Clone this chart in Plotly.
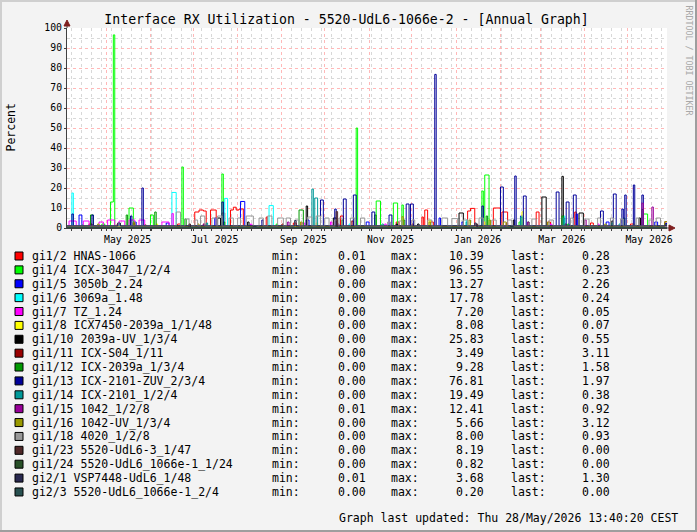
import pandas as pd
import plotly.graph_objects as go

RANGE_START = "2025-04-03 13:40"
RANGE_END = "2026-05-28 13:40"
LAST_FROM = "2026-05-27"

names = ["gi1/2 HNAS-1066", "gi1/4 ICX-3047_1/2/4", "gi1/5 3050b_2.24", "gi1/6 3069a_1.48",
         "gi1/7 TZ_1.24", "gi1/8 ICX7450-2039a_1/1/48", "gi1/10 2039a-UV_1/3/4", "gi1/11 ICX-S04_1/11",
         "gi1/12 ICX-2039a_1/3/4", "gi1/13 ICX-2101-ZUV_2/3/4", "gi1/14 ICX-2101_1/2/4", "gi1/15 1042_1/2/8",
         "gi1/16 1042-UV_1/3/4", "gi1/18 4020_1/2/8", "gi1/23 5520-UdL6-3_1/47", "gi1/24 5520-UdL6_1066e-1_1/24",
         "gi2/1 VSP7448-UdL6_1/48", "gi2/3 5520-UdL6_1066e-1_2/4"]
mins = [0.01, 0.00, 0.00, 0.00, 0.00, 0.00, 0.00, 0.00, 0.00, 0.00, 0.00, 0.01, 0.00, 0.00, 0.00, 0.00, 0.01, 0.00]
maxs = [10.39, 96.55, 13.27, 17.78, 7.20, 8.08, 25.83, 3.49, 9.28, 76.81, 19.49, 12.41, 5.66, 8.00, 8.19, 0.82, 3.68, 0.20]
lasts = [0.28, 0.23, 2.26, 0.24, 0.05, 0.07, 0.55, 3.11, 1.58, 1.97, 0.38, 0.92, 3.12, 0.93, 0.00, 0.00, 1.30, 0.00]
bases = [0.3, 0.3, 0.8, 0.3, 0.2, 0.1, 0.5, 0.5, 1.0, 1.0, 0.4, 0.8, 0.8, 1.0, 0.1, 0.1, 1.0, 0.1]
colors = ["#FF0000", "#00FF00", "#0000FF", "#00FFFF", "#FF00FF", "#FFFF00", "#000000", "#990000",
          "#009900", "#000099", "#009999", "#990099", "#999900", "#999999", "#4F2828", "#285028",
          "#28284F", "#285050"]

gi1_2_events = [("2025-04-19", "2025-04-21", 2.0), ("2025-05-08", "2025-05-10", 1.5), ("2025-06-20", "2025-06-22", 2.0),
                ("2025-07-02", "2025-07-05", 8.0), ("2025-07-05", "2025-07-08", 9.0), ("2025-07-08", "2025-07-10", 8.5),
                ("2025-07-13", "2025-07-17", 9.0), ("2025-07-21", "2025-07-23", 7.5), ("2025-07-27", "2025-07-29", 9.0),
                ("2025-07-29", "2025-07-31", 10.39), ("2025-07-31", "2025-08-02", 9.0), ("2025-08-02", "2025-08-05", 9.5),
                ("2025-08-21", "2025-08-22", 5.5), ("2025-09-09", "2025-09-11", 2.5), ("2025-10-12", "2025-10-14", 6.0),
                ("2025-11-20", "2025-11-22", 3.0), ("2025-12-08", "2025-12-09", 5.5), ("2025-12-10", "2025-12-12", 9.0),
                ("2025-12-14", "2025-12-16", 3.0), ("2026-01-09", "2026-01-11", 8.5), ("2026-01-11", "2026-01-14", 9.8),
                ("2026-01-27", "2026-02-01", 10.0), ("2026-02-02", "2026-02-06", 8.0), ("2026-02-26", "2026-02-28", 8.0),
                ("2026-03-06", "2026-03-08", 3.0), ("2026-03-25", "2026-03-26", 8.0), ("2026-04-05", "2026-04-07", 2.5),
                ("2026-05-03", "2026-05-05", 2.0)]
gi1_4_events = [("2025-04-14", "2025-04-15", 1.5), ("2025-04-28", "2025-04-30", 2.0), ("2025-05-04", "2025-05-06", 13.0),
                ("2025-05-06", "2025-05-07", 96.55), ("2025-05-17", "2025-05-20", 10.0), ("2025-06-01", "2025-06-03", 6.5),
                ("2025-06-23", "2025-06-24", 30.5), ("2025-07-21", "2025-07-22", 27.0), ("2025-08-28", "2025-08-29", 2.0),
                ("2025-10-23", "2025-10-24", 50.0), ("2025-11-06", "2025-11-09", 13.5), ("2025-11-18", "2025-11-21", 12.5),
                ("2025-11-24", "2025-11-25", 11.5), ("2026-01-19", "2026-01-20", 18.5), ("2026-01-21", "2026-01-24", 26.5),
                ("2026-02-14", "2026-02-16", 3.0), ("2026-03-20", "2026-03-21", 2.0), ("2026-05-12", "2026-05-15", 7.0)]
gi1_5_events = [("2025-04-12", "2025-04-14", 6.5), ("2025-05-20", "2025-05-22", 3.0), ("2025-06-12", "2025-06-14", 2.5),
                ("2025-07-16", "2025-07-17", 5.0), ("2025-08-03", "2025-08-06", 13.27), ("2025-09-18", "2025-09-20", 4.0),
                ("2025-10-30", "2025-11-01", 3.0), ("2025-12-20", "2025-12-21", 5.0), ("2026-01-05", "2026-01-06", 3.0),
                ("2026-02-15", "2026-02-16", 6.0), ("2026-03-26", "2026-03-27", 7.0), ("2026-04-16", "2026-04-18", 3.0),
                ("2026-05-20", "2026-05-22", 3.0)]
gi1_6_events = [("2025-04-07", "2025-04-08", 17.5), ("2025-06-16", "2025-06-19", 17.78), ("2025-07-23", "2025-07-25", 14.8),
                ("2025-08-23", "2025-08-26", 11.2), ("2025-10-18", "2025-10-19", 2.0), ("2026-01-08", "2026-01-09", 4.0),
                ("2026-02-16", "2026-02-17", 6.0), ("2026-03-17", "2026-03-18", 6.0), ("2026-04-20", "2026-04-21", 2.5)]
gi1_7_events = [("2025-04-05", "2025-04-10", 3.5), ("2025-04-15", "2025-04-19", 3.5), ("2025-04-26", "2025-04-29", 3.0),
                ("2025-05-02", "2025-05-07", 4.0), ("2025-05-10", "2025-05-14", 3.5), ("2025-05-17", "2025-05-21", 4.0),
                ("2025-05-24", "2025-05-28", 4.0), ("2025-06-09", "2025-06-14", 3.0), ("2025-06-16", "2025-06-17", 7.2),
                ("2025-08-10", "2025-08-11", 2.0), ("2025-09-15", "2025-09-17", 2.5), ("2025-10-05", "2025-10-06", 3.0),
                ("2025-11-12", "2025-11-13", 2.0), ("2026-01-20", "2026-01-21", 3.0), ("2026-03-08", "2026-03-09", 2.0),
                ("2026-04-10", "2026-04-11", 2.0)]
gi1_8_events = [("2025-06-05", "2025-06-06", 2.0), ("2025-09-25", "2025-09-26", 2.5), ("2025-12-13", "2025-12-14", 4.0),
                ("2026-01-20", "2026-01-21", 3.0), ("2026-02-16", "2026-02-17", 8.08), ("2026-05-05", "2026-05-06", 2.0)]
gi1_10_events = [("2025-05-20", "2025-05-21", 2.5), ("2025-07-18", "2025-07-20", 5.0), ("2025-08-08", "2025-08-09", 3.0),
                 ("2025-09-18", "2025-09-19", 11.0), ("2025-10-07", "2025-10-09", 5.0), ("2025-11-20", "2025-11-21", 2.0),
                 ("2025-12-05", "2025-12-06", 2.0), ("2026-01-03", "2026-01-06", 7.5), ("2026-02-10", "2026-02-11", 4.0),
                 ("2026-03-02", "2026-03-05", 15.5), ("2026-03-16", "2026-03-17", 25.83), ("2026-03-28", "2026-03-31", 7.5),
                 ("2026-04-20", "2026-04-21", 3.5), ("2026-05-09", "2026-05-10", 5.0)]
gi1_11_events = [("2025-04-20", "2025-04-21", 2.0), ("2025-05-28", "2025-05-29", 1.5), ("2025-07-08", "2025-07-09", 2.0),
                 ("2025-09-01", "2025-09-02", 2.0), ("2025-10-20", "2025-10-21", 3.49), ("2025-12-01", "2025-12-02", 2.0),
                 ("2026-02-05", "2026-02-06", 2.5), ("2026-03-18", "2026-03-19", 2.0)]
gi1_12_events = [("2025-04-20", "2025-04-22", 6.5), ("2025-05-15", "2025-05-16", 6.5), ("2025-06-04", "2025-06-05", 8.0),
                 ("2025-06-25", "2025-06-26", 4.5), ("2025-07-22", "2025-07-23", 3.0), ("2025-09-13", "2025-09-16", 9.0),
                 ("2025-10-13", "2025-10-14", 4.0), ("2025-11-05", "2025-11-06", 6.5), ("2025-11-25", "2025-11-26", 4.0),
                 ("2026-01-22", "2026-01-23", 6.0), ("2026-02-20", "2026-02-21", 3.0), ("2026-03-16", "2026-03-17", 6.0),
                 ("2026-04-28", "2026-04-29", 5.0), ("2026-05-11", "2026-05-12", 9.28)]
gi1_13_events = [("2025-04-07", "2025-04-08", 7.0), ("2025-04-21", "2025-04-22", 6.5), ("2025-05-18", "2025-05-19", 6.0),
                 ("2025-05-26", "2025-05-27", 20.0), ("2025-07-21", "2025-07-22", 13.0), ("2025-08-18", "2025-08-19", 4.0),
                 ("2025-09-28", "2025-09-30", 14.0), ("2025-10-08", "2025-10-09", 9.5), ("2025-10-14", "2025-10-16", 14.5),
                 ("2025-10-21", "2025-10-23", 16.5), ("2025-11-03", "2025-11-05", 8.0), ("2025-11-15", "2025-11-17", 6.5),
                 ("2025-11-27", "2025-11-29", 12.0), ("2025-11-30", "2025-12-02", 12.0), ("2025-12-17", "2025-12-18", 76.81),
                 ("2026-01-19", "2026-01-20", 11.0), ("2026-02-01", "2026-02-03", 20.5), ("2026-02-11", "2026-02-12", 26.0),
                 ("2026-02-17", "2026-02-19", 16.0), ("2026-03-12", "2026-03-14", 18.0), ("2026-03-19", "2026-03-21", 13.0),
                 ("2026-03-24", "2026-03-26", 16.5), ("2026-04-12", "2026-04-14", 8.5), ("2026-04-21", "2026-04-23", 17.0),
                 ("2026-04-27", "2026-04-28", 9.5), ("2026-04-29", "2026-04-30", 16.5), ("2026-05-05", "2026-05-06", 21.5),
                 ("2026-05-11", "2026-05-12", 16.5)]
gi1_14_events = [("2025-05-10", "2025-05-11", 2.0), ("2025-07-10", "2025-07-11", 2.5), ("2025-09-22", "2025-09-23", 19.49),
                 ("2025-09-24", "2025-09-26", 15.0), ("2025-11-10", "2025-11-11", 2.0), ("2026-01-08", "2026-01-09", 3.0),
                 ("2026-02-15", "2026-02-16", 5.5), ("2026-03-17", "2026-03-18", 5.0), ("2026-04-25", "2026-04-26", 2.0)]
gi1_15_events = [("2025-07-08", "2025-07-09", 2.0), ("2025-09-05", "2025-09-06", 3.0), ("2025-10-10", "2025-10-11", 2.0),
                 ("2026-02-20", "2026-02-21", 3.0), ("2026-04-01", "2026-04-02", 4.0), ("2026-05-11", "2026-05-12", 12.41),
                 ("2026-05-18", "2026-05-19", 10.5)]
gi1_16_events = [("2025-04-25", "2025-04-26", 2.0), ("2025-05-20", "2025-05-21", 3.0), ("2025-07-04", "2025-07-05", 2.0),
                 ("2025-09-14", "2025-09-15", 3.0), ("2025-11-24", "2025-11-25", 5.66), ("2025-12-13", "2025-12-14", 3.0),
                 ("2026-01-10", "2026-01-11", 4.0), ("2026-01-24", "2026-01-25", 4.0), ("2026-02-03", "2026-02-05", 3.0),
                 ("2026-03-06", "2026-03-07", 3.0), ("2026-04-15", "2026-04-16", 2.0)]
gi1_18_events = [("2025-06-19", "2025-06-22", 8.0), ("2025-06-25", "2025-06-28", 4.5), ("2025-07-02", "2025-07-04", 4.0),
                 ("2025-07-06", "2025-07-09", 6.0), ("2025-07-14", "2025-07-17", 5.0), ("2025-07-18", "2025-07-21", 6.0),
                 ("2025-07-26", "2025-07-29", 5.0), ("2025-08-01", "2025-08-03", 5.0), ("2025-08-07", "2025-08-12", 6.0),
                 ("2025-08-16", "2025-08-19", 5.0), ("2025-08-22", "2025-08-25", 6.0), ("2025-08-29", "2025-09-02", 5.0),
                 ("2025-09-04", "2025-09-07", 5.0), ("2025-09-10", "2025-09-13", 4.0), ("2025-09-19", "2025-09-22", 5.5),
                 ("2025-09-25", "2025-09-28", 6.0), ("2025-10-01", "2025-10-04", 5.0), ("2025-10-08", "2025-10-10", 4.0),
                 ("2025-10-11", "2025-10-13", 5.0), ("2025-10-19", "2025-10-22", 5.0), ("2025-10-26", "2025-10-29", 5.0),
                 ("2025-11-14", "2025-11-16", 3.0), ("2025-11-22", "2025-11-24", 3.5), ("2025-12-01", "2025-12-03", 4.0),
                 ("2025-12-12", "2025-12-15", 4.0), ("2025-12-22", "2025-12-26", 5.0), ("2025-12-29", "2026-01-02", 4.7),
                 ("2026-01-06", "2026-01-09", 4.0), ("2026-01-17", "2026-01-20", 5.0), ("2026-01-26", "2026-01-29", 4.0),
                 ("2026-02-06", "2026-02-09", 4.0), ("2026-02-23", "2026-02-26", 4.5), ("2026-03-07", "2026-03-10", 4.0),
                 ("2026-03-22", "2026-03-24", 5.0), ("2026-04-01", "2026-04-04", 4.5), ("2026-04-10", "2026-04-12", 5.0),
                 ("2026-04-19", "2026-04-21", 5.0), ("2026-04-26", "2026-04-28", 4.5), ("2026-05-07", "2026-05-09", 5.0),
                 ("2026-05-16", "2026-05-19", 4.0), ("2026-05-21", "2026-05-24", 5.0)]
gi1_23_events = [("2025-06-28", "2025-06-29", 2.0), ("2025-10-09", "2025-10-10", 8.19), ("2026-01-15", "2026-01-16", 2.0)]
gi1_24_events = [("2025-08-12", "2025-08-14", 0.82), ("2026-02-08", "2026-02-10", 0.8)]
gi2_1_events = [("2025-05-09", "2025-05-11", 2.5), ("2025-09-10", "2025-09-11", 3.68), ("2026-01-14", "2026-01-15", 2.5)]
gi2_3_events = [("2025-11-01", "2025-11-03", 0.2)]

all_events = [gi1_2_events, gi1_4_events, gi1_5_events, gi1_6_events, gi1_7_events, gi1_8_events,
              gi1_10_events, gi1_11_events, gi1_12_events, gi1_13_events, gi1_14_events, gi1_15_events,
              gi1_16_events, gi1_18_events, gi1_23_events, gi1_24_events, gi2_1_events, gi2_3_events]


def build(base, evs, last):
    xs, ys = [RANGE_START], [base]
    for i, (s, e, v) in enumerate(evs):
        xs.append(s)
        ys.append(v)
        nxt = evs[i + 1][0] if i + 1 < len(evs) else None
        if nxt != e:
            xs.append(e)
            ys.append(base)
    xs += [LAST_FROM, RANGE_END]
    ys += [last, last]
    return xs, ys


# pixel -> paper helpers for decorations (plot area: x 67..667, y 28..228)
L, T, W, H = 67, 28, 600, 200


def px(x):
    return (x - L) / W


def py(y):
    return (T + H - y) / H


MONO = "DejaVu Sans Mono"
fig = go.Figure()

for i in range(len(names)):
    xs, ys = build(bases[i], all_events[i], lasts[i])
    fig.add_trace(go.Scatter(x=pd.to_datetime(xs, format="ISO8601"), y=ys, mode="lines",
                             line=dict(color=colors[i], width=1, shape="hv"),
                             showlegend=False, hoverinfo="skip"))

# dummy trace for label axis
fig.add_trace(go.Scatter(x=[pd.Timestamp(RANGE_START)], y=[None], xaxis="x2", showlegend=False, hoverinfo="skip"))

month_starts = pd.date_range("2025-05-01", "2026-05-01", freq="MS")
label_pos = pd.date_range("2025-05-01", "2026-05-01", freq="2MS") + pd.Timedelta(days=15)
label_txt = [d.strftime("%b %Y") for d in pd.date_range("2025-05-01", "2026-05-01", freq="2MS")]

fig.update_layout(
    width=697, height=532,
    margin=dict(l=L, r=697 - L - W, t=T, b=532 - T - H, pad=0),
    paper_bgcolor="#F3F3F3", plot_bgcolor="#FFFFFF",
    font=dict(family=MONO, color="#000000"),
    xaxis=dict(type="date", range=[RANGE_START, RANGE_END], tickmode="array", tickvals=month_starts,
               showticklabels=False, showgrid=True, gridcolor="#FFB8B8", griddash="dot", gridwidth=1,
               ticks="outside", ticklen=2, tickcolor="#404040",
               minor=dict(tickmode="linear", tick0="2025-04-07", dtick=7 * 86400000, showgrid=True,
                          gridcolor="#D8D8D8", griddash="dot", ticks="outside", ticklen=2, tickcolor="#404040"),
               showline=True, linecolor="#404040", linewidth=1, zeroline=False),
    xaxis2=dict(type="date", overlaying="x", anchor="y", side="bottom", range=[RANGE_START, RANGE_END],
                tickmode="array", tickvals=label_pos, ticktext=label_txt, showgrid=False, showline=False,
                ticks="outside", ticklen=2, tickcolor="rgba(0,0,0,0)",
                tickfont=dict(family=MONO, size=9.8, color="#000000"), zeroline=False),
    yaxis=dict(range=[0, 100], tickmode="linear", tick0=0, dtick=10, showgrid=True, gridcolor="#FFB8B8",
               griddash="dot", ticks="outside", ticklen=2, tickcolor="#404040",
               tickfont=dict(family=MONO, size=9.8, color="#000000"),
               minor=dict(tickmode="linear", tick0=0, dtick=5, showgrid=True, gridcolor="#D8D8D8", griddash="dot"),
               showline=True, linecolor="#404040", linewidth=1, zeroline=False),
    title=dict(text="Interface RX Utilization - 5520-UdL6-1066e-2 - [Annual Graph]", xref="container",
               yref="container", x=346.5 / 697, y=1 - 19.5 / 532, xanchor="center", yanchor="middle",
               font=dict(family=MONO, size=13.2, color="#000000")),
)

shapes = []
anns = []
# outer 3D frame
shapes.append(dict(type="rect", xref="paper", yref="paper", x0=px(0), x1=px(2), y0=py(532), y1=py(0),
                   fillcolor="#CFCFCF", line=dict(width=0), layer="below"))
shapes.append(dict(type="rect", xref="paper", yref="paper", x0=px(0), x1=px(697), y0=py(2), y1=py(0),
                   fillcolor="#CFCFCF", line=dict(width=0), layer="below"))
shapes.append(dict(type="rect", xref="paper", yref="paper", x0=px(695), x1=px(697), y0=py(532), y1=py(0),
                   fillcolor="#9E9E9E", line=dict(width=0), layer="below"))
shapes.append(dict(type="rect", xref="paper", yref="paper", x0=px(0), x1=px(697), y0=py(532), y1=py(530),
                   fillcolor="#9E9E9E", line=dict(width=0), layer="below"))
# axis extensions and arrows
shapes.append(dict(type="line", xref="paper", yref="paper", x0=0, x1=0, y0=1, y1=py(22),
                   line=dict(color="#404040", width=1)))
shapes.append(dict(type="line", xref="paper", yref="paper", x0=1, x1=px(671), y0=0, y1=0,
                   line=dict(color="#404040", width=1)))
shapes.append(dict(type="path", xref="paper", yref="paper",
                   path=f"M {px(67)},{py(20)} L {px(64)},{py(26)} L {px(70)},{py(26)} Z",
                   fillcolor="#7F1F1F", line=dict(color="#7F1F1F", width=1)))
shapes.append(dict(type="path", xref="paper", yref="paper",
                   path=f"M {px(675)},{py(228)} L {px(669)},{py(225)} L {px(669)},{py(231)} Z",
                   fillcolor="#7F1F1F", line=dict(color="#7F1F1F", width=1)))

# y axis title
anns.append(dict(text="Percent", xref="paper", yref="paper", x=px(10.5), y=0.5, textangle=-90, showarrow=False,
                 xanchor="center", yanchor="middle", font=dict(family=MONO, size=11.5, color="#000000")))
# watermark
anns.append(dict(text="RRDTOOL / TOBI OETIKER", xref="paper", yref="paper", x=px(688.5), y=py(60), textangle=90,
                 showarrow=False, xanchor="center", yanchor="middle", font=dict(family=MONO, size=8.3, color="#A8A8A8")))

# legend rows
for i in range(len(names)):
    yc = 256 + i * 13.88
    shapes.append(dict(type="rect", xref="paper", yref="paper", x0=px(15), x1=px(23), y0=py(yc + 4), y1=py(yc - 4),
                       fillcolor=colors[i], line=dict(color="#000000", width=1)))
    f = dict(family=MONO, size=11.5, color="#000000")
    anns.append(dict(text=names[i], x=px(30), xanchor="left", y=py(yc), yanchor="middle", xref="paper", yref="paper",
                     showarrow=False, font=f))
    anns.append(dict(text="min:", x=px(270), xanchor="left", y=py(yc), yanchor="middle", xref="paper", yref="paper",
                     showarrow=False, font=f))
    anns.append(dict(text=f"{mins[i]:.2f}", x=px(368), xanchor="right", y=py(yc), yanchor="middle", xref="paper",
                     yref="paper", showarrow=False, font=f))
    anns.append(dict(text="max:", x=px(389), xanchor="left", y=py(yc), yanchor="middle", xref="paper", yref="paper",
                     showarrow=False, font=f))
    anns.append(dict(text=f"{maxs[i]:.2f}", x=px(486), xanchor="right", y=py(yc), yanchor="middle", xref="paper",
                     yref="paper", showarrow=False, font=f))
    anns.append(dict(text="last:", x=px(509), xanchor="left", y=py(yc), yanchor="middle", xref="paper", yref="paper",
                     showarrow=False, font=f))
    anns.append(dict(text=f"{lasts[i]:.2f}", x=px(612), xanchor="right", y=py(yc), yanchor="middle", xref="paper",
                     yref="paper", showarrow=False, font=f))

anns.append(dict(text="Graph last updated: Thu 28/May/2026 13:40:20 CEST", x=px(680), xanchor="right", y=py(518),
                 yanchor="middle", xref="paper", yref="paper", showarrow=False,
                 font=dict(family=MONO, size=11.5, color="#000000")))

fig.update_layout(shapes=shapes, annotations=anns)
fig.write_html("out.html", config={"displayModeBar": False})
